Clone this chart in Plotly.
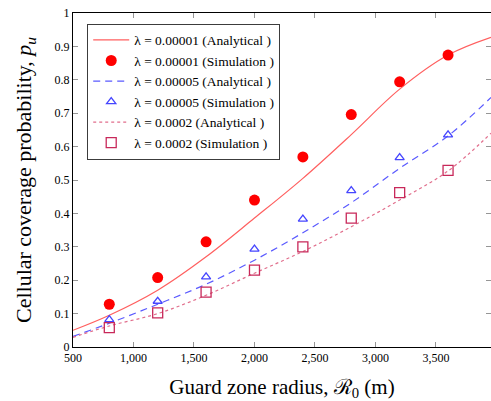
import plotly.graph_objects as go

# Analytical curves
x_an = [500, 800, 1200, 1600, 2000, 2400, 2800, 3200, 3600, 3955]
an_1e5 = [0.05, 0.095, 0.17, 0.27, 0.386, 0.505, 0.636, 0.772, 0.874, 0.927]
an_5e5 = [0.032, 0.071, 0.128, 0.188, 0.26, 0.342, 0.432, 0.535, 0.632, 0.747]
an_2e4 = [0.029, 0.063, 0.10, 0.155, 0.221, 0.286, 0.36, 0.44, 0.527, 0.64]

# Simulation points
x_sim = [800, 1200, 1600, 2000, 2400, 2800, 3200, 3600]
sim_1e5 = [0.128, 0.208, 0.315, 0.44, 0.569, 0.696, 0.794, 0.874]
sim_5e5 = [0.082, 0.137, 0.21, 0.293, 0.383, 0.468, 0.567, 0.635]
sim_2e4 = [0.058, 0.102, 0.164, 0.23, 0.30, 0.386, 0.462, 0.529]

x_ticks = [500, 1000, 1500, 2000, 2500, 3000, 3500]
y_ticks = [0, 0.1, 0.2, 0.3, 0.4, 0.5, 0.6, 0.7, 0.8, 0.9, 1]

serif = "Liberation Serif"

fig = go.Figure()
fig.add_trace(go.Scatter(x=x_an, y=an_1e5, mode="lines", line=dict(color="rgb(255,95,95)", width=1.2, shape="spline"),
                         name="λ = 0.00001 (Analytical )"))
fig.add_trace(go.Scatter(x=x_sim, y=sim_1e5, mode="markers", marker=dict(symbol="circle", size=11, color="rgb(255,0,0)"),
                         name="λ = 0.00001 (Simulation )"))
fig.add_trace(go.Scatter(x=x_an, y=an_5e5, mode="lines", line=dict(color="rgb(90,90,255)", width=1.2, dash="7px,5px", shape="spline"),
                         name="λ = 0.00005 (Analytical )"))
fig.add_trace(go.Scatter(x=x_sim, y=sim_5e5, mode="markers",
                         marker=dict(symbol="triangle-up-open", size=8, color="rgb(70,70,255)", line=dict(width=1.3)),
                         name="λ = 0.00005 (Simulation )"))
fig.add_trace(go.Scatter(x=x_an, y=an_2e4, mode="lines", line=dict(color="rgb(225,110,140)", width=1.2, dash="dot", shape="spline"),
                         name="λ = 0.0002 (Analytical )"))
fig.add_trace(go.Scatter(x=x_sim, y=sim_2e4, mode="markers",
                         marker=dict(symbol="square-open", size=10, color="rgb(200,40,90)", line=dict(width=1.3)),
                         name="λ = 0.0002 (Simulation )"))

fig.update_layout(
    width=491, height=401,
    margin=dict(l=73, r=0, t=13, b=54, autoexpand=False),
    paper_bgcolor="white", plot_bgcolor="white",
    font=dict(family=serif, color="black", size=12),
    showlegend=True,
    legend=dict(x=0.034, y=0.968, xanchor="left", yanchor="top",
                bgcolor="white", bordercolor="rgb(60,60,60)", borderwidth=1,
                font=dict(family=serif, size=13.5), tracegroupgap=0, itemwidth=36),
    xaxis=dict(range=[500, 3955], tickvals=x_ticks, tickformat=",d", automargin=False,
               ticks="inside", ticklen=5, tickcolor="rgb(150,150,150)",
               showline=True, linecolor="black", linewidth=1, mirror="ticks",
               showgrid=False, zeroline=False,
               tickfont=dict(family=serif, size=12),
               title=dict(text="Guard zone radius, ℛ<sub>0</sub> (m)", font=dict(family=serif, size=21), standoff=16)),
    yaxis=dict(range=[0, 1], tickvals=y_ticks, automargin=False,
               ticks="inside", ticklen=5, tickcolor="rgb(150,150,150)",
               showline=True, linecolor="black", linewidth=1, mirror="ticks",
               showgrid=False, zeroline=False,
               tickfont=dict(family=serif, size=12),
               title=dict(text="Cellular coverage probability, <i>p<sub>u</sub></i>", font=dict(family=serif, size=22), standoff=16)),
)

fig.write_html("out.html", config={"displayModeBar": False},
               post_script="document.body.style.margin='0px';document.body.style.overflow='hidden';")
